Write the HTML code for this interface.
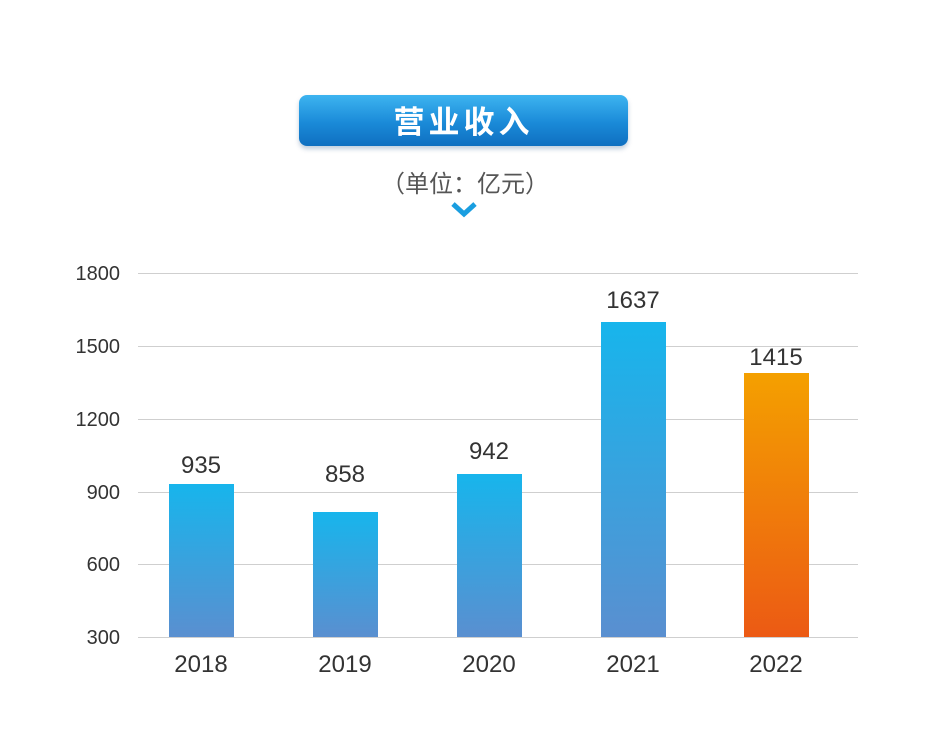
<!DOCTYPE html>
<html><head><meta charset="utf-8"><style>
body{margin:0;width:930px;height:740px;background:#fff;position:relative;overflow:hidden;font-family:"Liberation Sans","Noto Sans CJK SC",sans-serif}
.btn{position:absolute;left:299px;top:95px;width:329px;height:51px;border-radius:8px;background:linear-gradient(#3db4f0,#1a8ad8 55%,#0f6fc0);box-shadow:0 3px 5px rgba(0,60,120,.25);color:#fff;font-weight:bold;font-size:31px;text-align:center;line-height:49px;letter-spacing:4px;font-family:"Noto Sans CJK SC",sans-serif}
.sub{position:absolute;left:0;width:930px;top:164px;text-align:center;font-size:24px;color:#555;font-family:"Noto Sans CJK SC",sans-serif}
</style></head><body>
<div class="btn">营业收入</div>
<div class="sub">（单位：亿元）</div>
<svg width="930" height="740" style="position:absolute;left:0;top:0">
<defs>
<linearGradient id="b" x1="0" y1="0" x2="0" y2="1"><stop offset="0" stop-color="#17b5ec"/><stop offset="1" stop-color="#5a8fd0"/></linearGradient>
<linearGradient id="o" x1="0" y1="0" x2="0" y2="1"><stop offset="0" stop-color="#f4a000"/><stop offset="1" stop-color="#ec5a14"/></linearGradient>
</defs>
<polyline points="453,204 464,214 475,204" fill="none" stroke="#1a9ee0" stroke-width="5"/>
<g stroke="#cfcfcf" stroke-width="1">
<line x1="138" x2="858" y1="273.5" y2="273.5"/><line x1="138" x2="858" y1="346.5" y2="346.5"/><line x1="138" x2="858" y1="419.5" y2="419.5"/><line x1="138" x2="858" y1="492.5" y2="492.5"/><line x1="138" x2="858" y1="564.5" y2="564.5"/><line x1="138" x2="858" y1="637.5" y2="637.5"/>
</g>
<g font-size="20" fill="#333" text-anchor="end">
<text x="120" y="280">1800</text><text x="120" y="353">1500</text><text x="120" y="426">1200</text><text x="120" y="499">900</text><text x="120" y="571">600</text><text x="120" y="644">300</text>
</g>
<rect x="169" y="484" width="65" height="153" fill="url(#b)"/>
<rect x="313" y="512" width="65" height="125" fill="url(#b)"/>
<rect x="457" y="474" width="65" height="163" fill="url(#b)"/>
<rect x="601" y="322" width="65" height="315" fill="url(#b)"/>
<rect x="744" y="373" width="65" height="264" fill="url(#o)"/>
<g font-size="24" fill="#333" text-anchor="middle">
<text x="201" y="473">935</text><text x="345" y="482">858</text><text x="489" y="459">942</text><text x="633" y="308">1637</text><text x="776" y="365">1415</text>
<text x="201" y="672">2018</text><text x="345" y="672">2019</text><text x="489" y="672">2020</text><text x="633" y="672">2021</text><text x="776" y="672">2022</text>
</g>
</svg>
</body></html>
